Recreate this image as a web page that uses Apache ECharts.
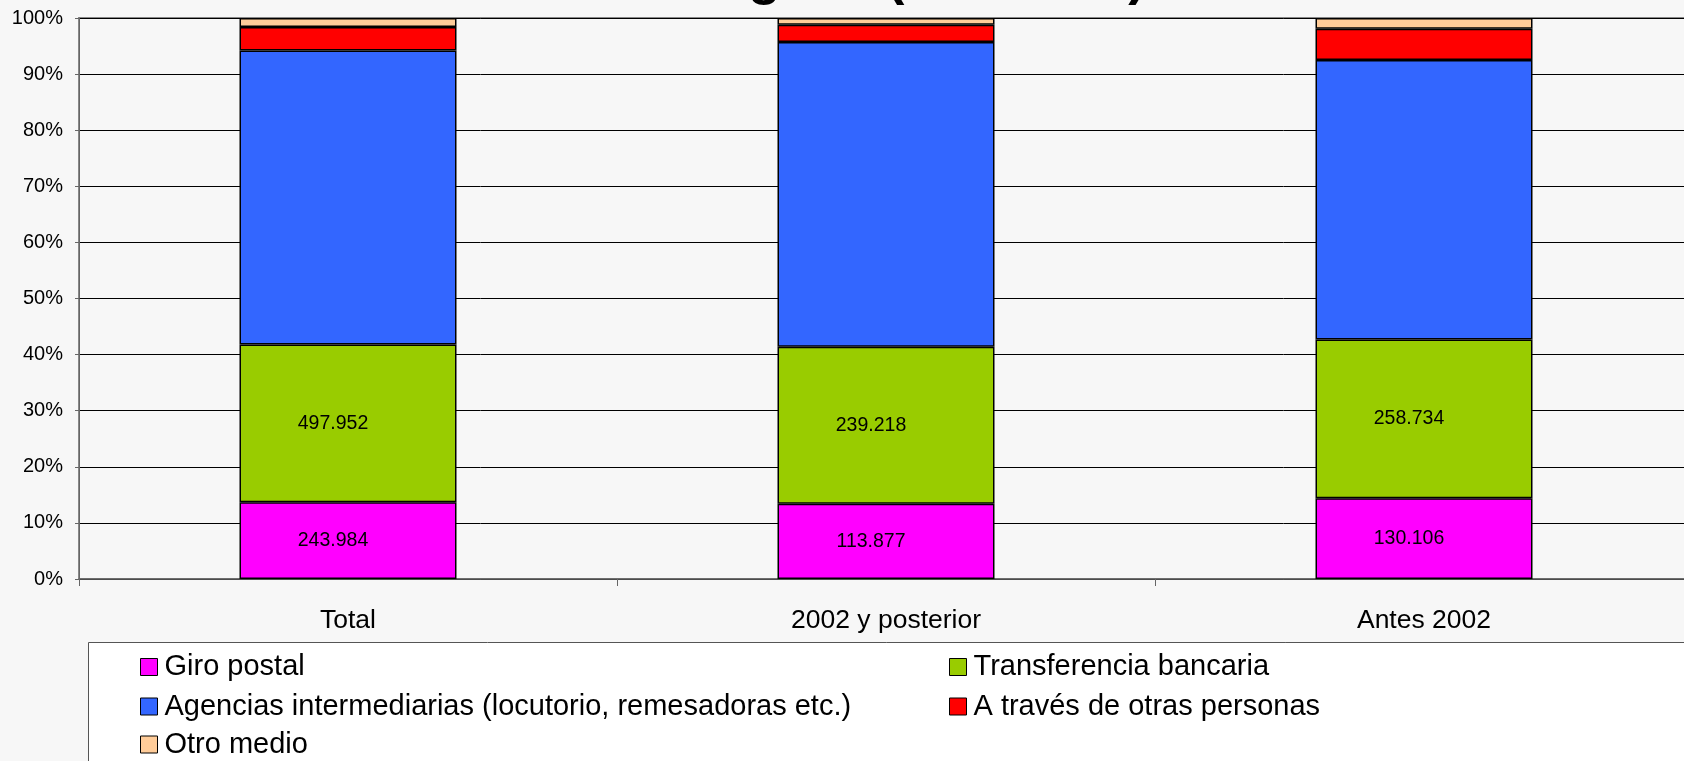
<!DOCTYPE html>
<html>
<head>
<meta charset="utf-8">
<title>Medio de envío</title>
<script src="https://cdn.jsdelivr.net/npm/echarts@6/dist/echarts.min.js"></script>
<style>
    html, body { margin: 0; padding: 0; background: #f7f7f7; }
    #multi-chart1 { width: 1684px; height: 761px; }
</style>
</head>
<body>
<div id="multi-chart1"></div>
<script>
'use strict';
// categorias y porcentajes
var categories = ['Total', '2002 y posterior', 'Antes 2002'];
var seriesNames = ['Giro postal', 'Transferencia bancaria', 'Agencias intermediarias (locutorio, remesadoras etc.)', 'A través de otras personas', 'Otro medio'];
var giroPostal = [13.7, 13.4, 14.4];
var transferencia = [28.1, 28.0, 28.3];
var agencias = [52.4, 54.3, 49.8];
var otrasPersonas = [4.2, 3.1, 5.6];
var otroMedio = [1.6, 1.2, 1.9];
// valores absolutos que aparecen como etiqueta
var giroLabels = ['243.984', '113.877', '130.106'];
var transferenciaLabels = ['497.952', '239.218', '258.734'];
var yTicks = [0, 10, 20, 30, 40, 50, 60, 70, 80, 90, 100];
// el titulo queda cortado por arriba, solo se ven los trazos inferiores
var titleText = 'Medio de envío de remesas. Año de llegada (ENI-2007)';

var colors = ['#ff00ff', '#99cc00', '#3366ff', '#ff0000', '#ffcc99'];
var font = 'Liberation Sans, Arial, sans-serif';

function serie(i, data, labels){
    var s = {
        name: seriesNames[i],
        type: 'bar',
        stack: 'total',
        barWidth: 217,
        data: data,
        itemStyle: {
            color: colors[i],
            borderColor: '#000',
            borderWidth: 1.5
        },
        emphasis: { disabled: true }
    };
    if(labels){
        s.label = {
            show: true,
            position: 'inside',
            offset: [-15, 0],
            color: '#000',
            fontFamily: font,
            fontSize: 19.5,
            formatter: function(p){
                return labels[p.dataIndex];
            }
        };
    }
    return s;
}

// una leyenda por elemento para colocar las dos columnas igual que en el original
function legendItem(left, top, name){
    return {
        left: left,
        top: top,
        padding: 0,
        itemWidth: 17,
        itemHeight: 17,
        icon: 'rect',
        selectedMode: false,
        itemStyle: { borderColor: '#000', borderWidth: 1 },
        textStyle: { color: '#000', fontFamily: font, fontSize: 29, lineHeight: 30, padding: [0, 0, 0, 2] },
        data: [name]
    };
}

var option = {
    backgroundColor: '#f7f7f7',
    animation: false,
    graphic: [
        {
            type: 'rect',
            shape: { x: 88.5, y: 642.5, width: 1700, height: 200 },
            style: { fill: '#ffffff', stroke: '#555555', lineWidth: 1 },
            z: 0
        },
        {
            type: 'text',
            x: 1146,
            y: -21,
            style: {
                text: titleText,
                font: 'bold 53px Liberation Sans, Arial, sans-serif',
                fill: '#000',
                align: 'right',
                verticalAlign: 'middle'
            },
            z: 10
        }
    ],
    legend: [
        legendItem(140, 652, seriesNames[0]),
        legendItem(949, 652, seriesNames[1]),
        legendItem(140, 691.5, seriesNames[2]),
        legendItem(949, 691.5, seriesNames[3]),
        legendItem(140, 729.5, seriesNames[4])
    ],
    grid: {
        left: 79,
        top: 18,
        width: 1614,
        bottom: 182,
        show: true,
        backgroundColor: 'transparent',
        borderColor: '#888',
        borderWidth: 2,
        outerBoundsMode: 'none',
        containLabel: false
    },
    xAxis: {
        type: 'category',
        data: categories,
        axisLine: { lineStyle: { color: '#666', width: 1.5 } },
        axisTick: { show: true, alignWithLabel: false, length: 7, lineStyle: { color: '#666' } },
        axisLabel: { color: '#000', fontFamily: font, fontSize: 26.5, margin: 28 }
    },
    yAxis: {
        type: 'value',
        min: yTicks[0],
        max: yTicks[yTicks.length - 1],
        interval: 10,
        axisLine: { show: true, lineStyle: { color: '#666', width: 1 } },
        axisTick: { show: true, length: 4, lineStyle: { color: '#666' } },
        axisLabel: { color: '#000', fontFamily: font, fontSize: 20, margin: 16, formatter: '{value}%' },
        splitLine: { show: true, lineStyle: { color: '#000', width: 1 } }
    },
    series: [
        serie(0, giroPostal, giroLabels),
        serie(1, transferencia, transferenciaLabels),
        serie(2, agencias),
        serie(3, otrasPersonas),
        serie(4, otroMedio)
    ]
};

var myChart1 = echarts.init(document.getElementById('multi-chart1'));
myChart1.setOption(option);
</script>
</body>
</html>
